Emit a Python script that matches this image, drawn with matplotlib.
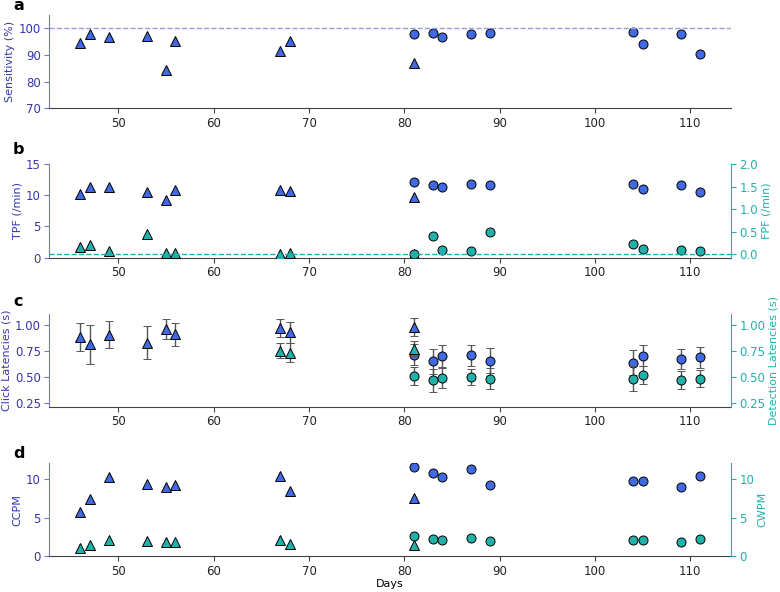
import matplotlib
matplotlib.use("Agg")
import matplotlib.pyplot as plt
from matplotlib.ticker import FormatStrFormatter

# recording days: pre (triangles) and post (circles)
days_tri = [46, 47, 49, 53, 55, 56, 67, 68, 81]
days_circ = [81, 83, 84, 87, 89, 104, 105, 109, 111]

# a: sensitivity (%)
sens_tri = [94.3, 97.9, 96.6, 97.1, 84.3, 95.0, 91.4, 95.0, 86.9]
sens_circ = [97.9, 98.0, 96.5, 97.8, 98.0, 98.5, 94.1, 97.9, 90.4]

# b: true / false positive frequency (/min)
tpf_tri = [10.2, 11.4, 11.4, 10.55, 9.3, 10.9, 10.9, 10.65, 9.7]
tpf_circ = [12.2, 11.7, 11.4, 11.8, 11.6, 11.8, 11.1, 11.7, 10.5]
fpf_tri = [0.15, 0.19, 0.07, 0.44, 0.02, 0.03, 0.0, 0.02, 0.0]
fpf_circ = [0.01, 0.41, 0.10, 0.07, 0.49, 0.22, 0.11, 0.10, 0.07]

# c: latencies (s), mean and error
click_tri = [0.885, 0.81, 0.904, 0.828, 0.962, 0.907, 0.971, 0.927, 0.978]
click_tri_err = [0.135, 0.185, 0.127, 0.16, 0.096, 0.11, 0.085, 0.10, 0.088]
click_circ = [0.713, 0.649, 0.697, 0.706, 0.655, 0.636, 0.703, 0.674, 0.687]
click_circ_err = [0.10, 0.118, 0.105, 0.10, 0.12, 0.118, 0.10, 0.095, 0.10]
det_days_tri = [67, 68, 81]
det_tri = [0.751, 0.732, 0.77]
det_tri_err = [0.07, 0.09, 0.07]
det_circ = [0.505, 0.467, 0.489, 0.499, 0.48, 0.48, 0.515, 0.47, 0.483]
det_circ_err = [0.085, 0.11, 0.093, 0.078, 0.10, 0.12, 0.085, 0.083, 0.083]

# d: correct characters / words per minute
ccpm_tri = [5.8, 7.47, 10.34, 9.4, 9.06, 9.23, 10.43, 8.54, 7.55]
ccpm_circ = [11.55, 10.77, 10.26, 11.29, 9.31, 9.83, 9.74, 9.01, 10.39]
cwpm_tri = [1.16, 1.5, 2.19, 1.97, 1.85, 1.85, 2.15, 1.67, 1.55]
cwpm_circ = [2.66, 2.23, 2.15, 2.45, 2.02, 2.1, 2.1, 1.89, 2.23]

BLUE = "royalblue"
TEAL = "lightseagreen"
LTXT = "#3535b0"
LSPN = "#7474cc"
RCOL = "#20b2aa"

plt.rcParams["font.family"] = "DejaVu Sans"
plt.rcParams["font.size"] = 8
plt.rcParams["xtick.labelsize"] = 8.5
plt.rcParams["ytick.labelsize"] = 8.5
plt.rcParams["axes.labelpad"] = 2.5

fig, axes = plt.subplots(4, 1, figsize=(7.8, 5.92), dpi=100)
fig.subplots_adjust(left=0.063, right=0.937, top=0.975, bottom=0.06, hspace=0.6)

mk = dict(markeredgecolor="black", markeredgewidth=0.7, linestyle="none", markersize=6.5)


def style_left(ax, label):
    ax.spines["top"].set_visible(False)
    ax.spines["right"].set_visible(False)
    ax.spines["left"].set_color(LSPN)
    ax.spines["bottom"].set_color("#444444")
    ax.tick_params(axis="y", colors=LSPN, labelcolor=LTXT, pad=2.5)
    ax.set_ylabel(label, color=LTXT)


def style_right(ax, label):
    for s in ["top", "left", "bottom"]:
        ax.spines[s].set_visible(False)
    ax.spines["right"].set_color(RCOL)
    ax.tick_params(axis="y", colors=RCOL, labelcolor=RCOL, pad=2.5)
    ax.set_ylabel(label, color=RCOL)


# a
ax = axes[0]
ax.plot(days_tri, sens_tri, marker="^", color=BLUE, **mk)
ax.plot(days_circ, sens_circ, marker="o", color=BLUE, **mk)
ax.axhline(100, color="#9d9ddd", linestyle="--", linewidth=1)
ax.set_ylim(70, 105)
ax.set_yticks([70, 80, 90, 100])
style_left(ax, "Sensitivity (%)")

# b
ax = axes[1]
ax2 = ax.twinx()
ax.plot(days_tri, tpf_tri, marker="^", color=BLUE, **mk)
ax.plot(days_circ, tpf_circ, marker="o", color=BLUE, **mk)
ax2.plot(days_tri, fpf_tri, marker="^", color=TEAL, **mk)
ax2.plot(days_circ, fpf_circ, marker="o", color=TEAL, **mk)
ax2.axhline(0, color=TEAL, linestyle="--", linewidth=1)
ax.set_ylim(0, 15)
ax.set_yticks([0, 5, 10, 15])
ax2.set_ylim(-0.08, 2.0)
ax2.set_yticks([0, 0.5, 1.0, 1.5, 2.0])
ax2.yaxis.set_major_formatter(FormatStrFormatter("%.1f"))
style_left(ax, "TPF (/min)")
style_right(ax2, "FPF (/min)")

# c
ax = axes[2]
ax2 = ax.twinx()
eb = dict(ecolor="#555555", capsize=3, elinewidth=1, capthick=1, zorder=1)
ax.errorbar(days_tri, click_tri, yerr=click_tri_err, marker="^", color=BLUE, **mk, **eb)
ax.errorbar(days_circ, click_circ, yerr=click_circ_err, marker="o", color=BLUE, **mk, **eb)
ax2.errorbar(det_days_tri, det_tri, yerr=det_tri_err, marker="^", color=TEAL, **mk, **eb)
ax2.errorbar(days_circ, det_circ, yerr=det_circ_err, marker="o", color=TEAL, **mk, **eb)
for a in (ax, ax2):
    a.set_ylim(0.21, 1.105)
    a.set_yticks([0.25, 0.5, 0.75, 1.0])
    a.yaxis.set_major_formatter(FormatStrFormatter("%.2f"))
style_left(ax, "Click Latencies (s)")
style_right(ax2, "Detection Latencies (s)")

# d
ax = axes[3]
ax2 = ax.twinx()
ax.plot(days_tri, ccpm_tri, marker="^", color=BLUE, **mk)
ax.plot(days_circ, ccpm_circ, marker="o", color=BLUE, **mk)
ax2.plot(days_tri, cwpm_tri, marker="^", color=TEAL, **mk)
ax2.plot(days_circ, cwpm_circ, marker="o", color=TEAL, **mk)
for a in (ax, ax2):
    a.set_ylim(0, 12.1)
    a.set_yticks([0, 5, 10])
style_left(ax, "CCPM")
style_right(ax2, "CWPM")
ax.set_xlabel("Days", labelpad=1)

label_y = [6, 149, 302, 453]
for ax, lab, ly in zip(axes, "abcd", label_y):
    ax.set_xlim(42.75, 114.25)
    ax.tick_params(axis="x", colors="#444444", labelcolor="#222222", pad=2.5)
    fig.text(13 / 780, 1 - ly / 592, lab, fontsize=11.5, fontweight="bold",
             va="center", ha="left")

fig.savefig("out.png", dpi=100)
